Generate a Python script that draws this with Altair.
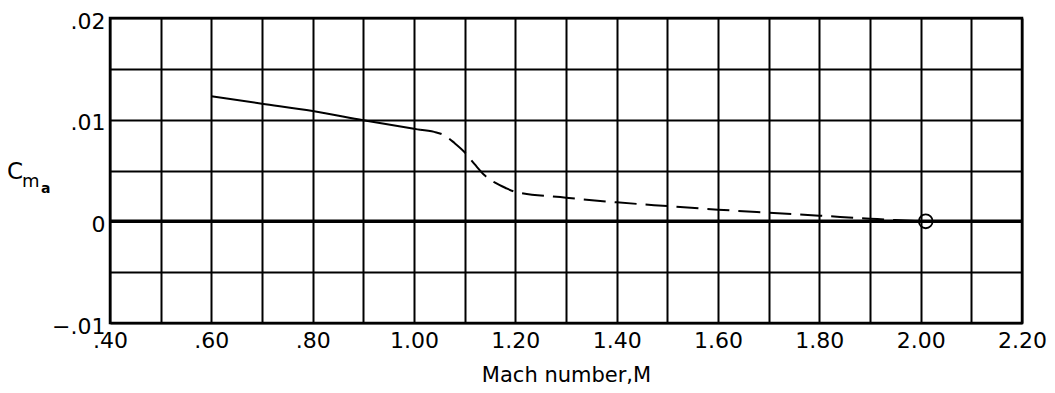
import altair as alt
import pandas as pd

# ---- data ----
solid_mach = [0.60, 0.70, 0.80, 0.90, 1.00, 1.012]
solid_cm = [0.0123, 0.01157, 0.01085, 0.00995, 0.0091, 0.0090]

dash_mach = [1.012, 1.04, 1.06, 1.08, 1.10, 1.12, 1.14, 1.16, 1.18, 1.20,
             1.30, 1.40, 1.50, 1.60, 1.70, 1.80, 1.90, 1.95, 1.99]
dash_cm = [0.0090, 0.0088, 0.00846, 0.0077, 0.0068, 0.0056, 0.0045, 0.0038, 0.0033, 0.0029,
           0.00233, 0.00187, 0.0015, 0.00115, 0.00085, 0.00056, 0.00026, 0.00012, 0.00003]

point_mach = [2.01]
point_cm = [0.0]

zero_cm = [0.0]

x_grid_values = [0.40, 0.50, 0.60, 0.70, 0.80, 0.90, 1.00, 1.10, 1.20, 1.30,
                 1.40, 1.50, 1.60, 1.70, 1.80, 1.90, 2.00, 2.10, 2.20]
x_label_values = [0.40, 0.60, 0.80, 1.00, 1.20, 1.40, 1.60, 1.80, 2.00, 2.20]
x_label_texts = [".40", ".60", ".80", "1.00", "1.20", "1.40", "1.60", "1.80", "2.00", "2.20"]

y_grid_values = [-0.010, -0.005, 0.0, 0.005, 0.010, 0.015, 0.020]
y_label_values = [-0.010, 0.0, 0.010, 0.020]
y_label_texts = ["\u2212.01", "0", ".01", ".02"]

x_title = "Mach number,M"
y_title_parts = ["C", "m", "a"]

FONT = "DejaVu Sans"


def label_expr(values, texts):
    parts = [f"abs(datum.value - ({v})) < 1e-6 ? '{t}'" for v, t in zip(values, texts)]
    return " : ".join(parts) + " : ''"


x_enc = alt.X(
    "mach:Q",
    scale=alt.Scale(domain=[0.4, 2.2], nice=False, zero=False),
    axis=alt.Axis(
        values=x_grid_values,
        labelExpr=label_expr(x_label_values, x_label_texts),
        title=x_title,
        titleFont=FONT,
        titleFontSize=21,
        titleFontWeight="normal",
        titleColor="black",
        titlePadding=13,
        labelFont=FONT,
        labelFontSize=22,
        labelColor="black",
        labelPadding=7,
        labelFlush=False,
        labelOverlap=False,
        ticks=False,
        domain=False,
        grid=True,
        gridColor="black",
        gridWidth=2,
        gridOpacity=1,
    ),
)

y_enc = alt.Y(
    "cm:Q",
    scale=alt.Scale(domain=[-0.01, 0.02], nice=False, zero=False),
    axis=alt.Axis(
        values=y_grid_values,
        labelExpr=label_expr(y_label_values, y_label_texts),
        title=None,
        labelFont=FONT,
        labelFontSize=22,
        labelColor="black",
        labelPadding=5,
        labelOffset=3,
        labelFlush=False,
        labelOverlap=False,
        ticks=False,
        domain=False,
        grid=True,
        gridColor="black",
        gridWidth=2,
        gridOpacity=1,
    ),
)

solid_df = pd.DataFrame({"mach": solid_mach, "cm": solid_cm})
dash_df = pd.DataFrame({"mach": dash_mach, "cm": dash_cm})
point_df = pd.DataFrame({"mach": point_mach, "cm": point_cm})
zero_df = pd.DataFrame({"cm": zero_cm})

solid = alt.Chart(solid_df).mark_line(
    color="black", strokeWidth=2, interpolate="monotone"
).encode(x=x_enc, y=y_enc)

dashed = alt.Chart(dash_df).mark_line(
    color="black", strokeWidth=2, interpolate="monotone", strokeDash=[22, 9]
).encode(x=x_enc, y=y_enc)

zero = alt.Chart(zero_df).mark_rule(color="black", strokeWidth=3.5).encode(y=y_enc)

circle = alt.Chart(point_df).mark_point(
    shape="circle", filled=False, color="black", strokeWidth=1.8, size=190, opacity=1
).encode(x=x_enc, y=y_enc)

title_df = pd.DataFrame({"t": y_title_parts})
c_txt = alt.Chart(title_df.iloc[[0]]).mark_text(
    font=FONT, fontSize=23, align="left", baseline="alphabetic", color="black"
).encode(text="t:N", x=alt.value(-103), y=alt.value(161))
m_txt = alt.Chart(title_df.iloc[[1]]).mark_text(
    font=FONT, fontSize=18, align="left", baseline="alphabetic", color="black"
).encode(text="t:N", x=alt.value(-88), y=alt.value(169))
a_txt = alt.Chart(title_df.iloc[[2]]).mark_text(
    font=FONT, fontSize=14, fontWeight="bold", align="left", baseline="alphabetic", color="black"
).encode(text="t:N", x=alt.value(-69), y=alt.value(175))

chart = alt.layer(zero, solid, dashed, circle, c_txt, m_txt, a_txt).properties(
    width=912,
    height=305,
    autosize=alt.AutoSizeParams(type="none"),
    padding={"left": 102, "top": 10, "right": 25, "bottom": 62},
    background="white",
).configure_view(stroke="black", strokeWidth=2.5)

chart.save("out.html", embed_options={"renderer": "svg", "actions": False})
